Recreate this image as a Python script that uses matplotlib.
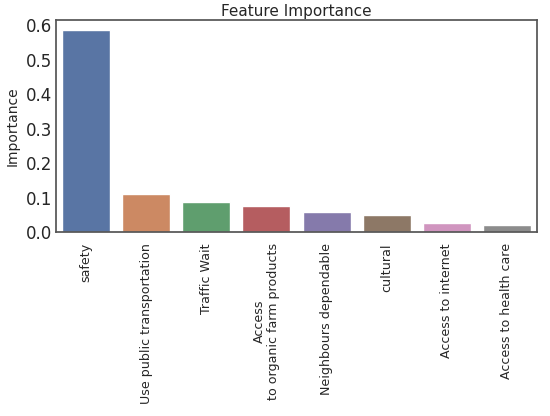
import matplotlib
matplotlib.use("Agg")
import matplotlib.pyplot as plt
import seaborn as sns

features = ["safety", "Use public transportation", "Traffic Wait",
            "Access\nto organic farm products", "Neighbours dependable",
            "cultural", "Access to internet", "Access to health care"]
importance = [0.586, 0.110, 0.0866, 0.075, 0.059, 0.0496, 0.0253, 0.0195]

sns.set_theme(style="white")
plt.rcParams['font.family'] = ['DejaVu Sans']

fig = plt.figure(figsize=(5.5, 4.16), dpi=100)
ax = fig.add_axes([56/550, 1-232/416, (537-56)/550, (232-20)/416])
colors = [sns.desaturate(c, 0.75) for c in sns.color_palette("deep", len(features))]
ax.bar(range(len(features)), importance, color=colors, width=0.8)
ax.set_xlim(-0.5, len(features)-0.5)
ax.set_ylim(0, 0.6155)
ax.set_yticks([0, 0.1, 0.2, 0.3, 0.4, 0.5, 0.6])
ax.set_xticks(range(len(features)))
ax.set_xticklabels(features, rotation=90, fontsize=9.1)
ax.tick_params(axis='both', length=0)
ax.tick_params(axis='y', labelsize=12, pad=3)
ax.tick_params(axis='x', pad=8)
ax.set_ylabel("Importance", fontsize=10, labelpad=4)
ax.set_title("Feature Importance", fontsize=11, pad=3)
for s in ax.spines.values():
    s.set_color("#555555")
fig.savefig("out.png", dpi=100)
